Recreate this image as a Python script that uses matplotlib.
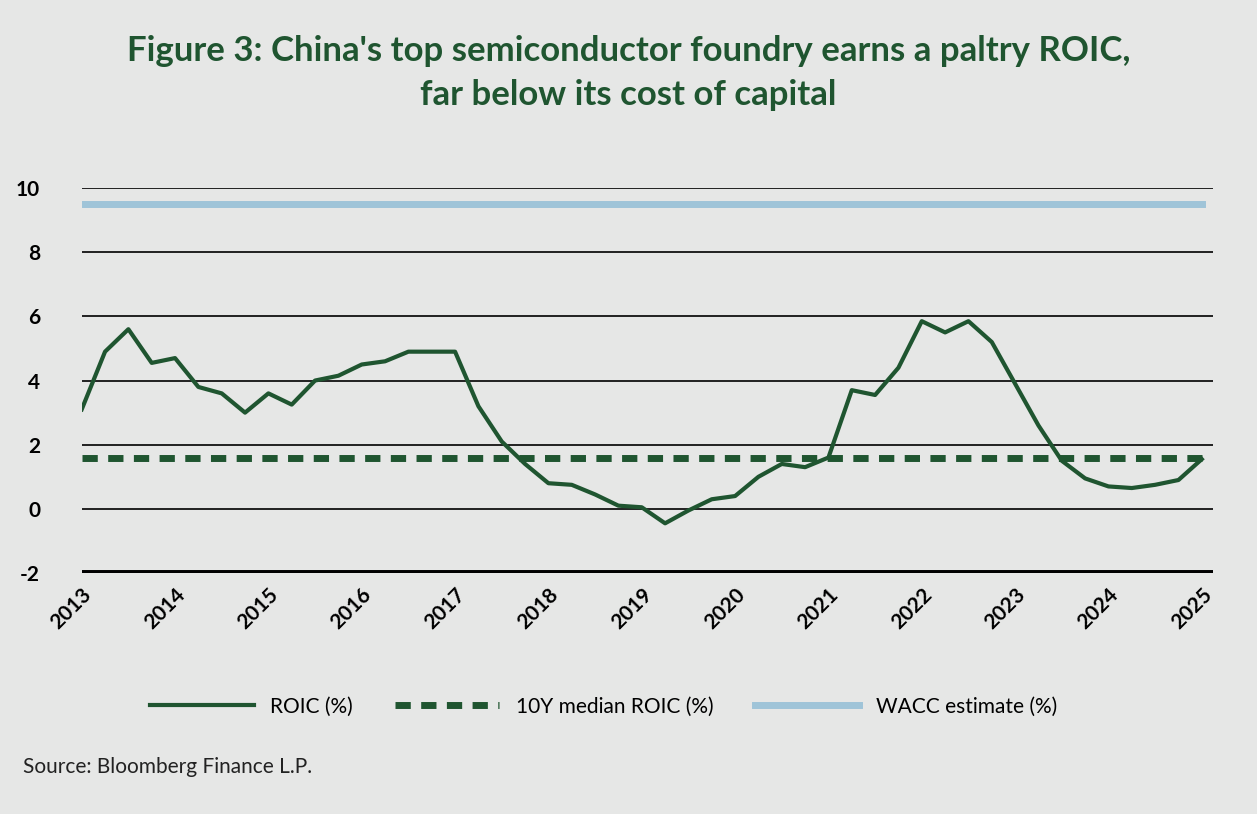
import numpy as np
import matplotlib.pyplot as plt

years = [str(y) for y in range(2013, 2026)]
roic = [3.1, 4.9, 5.6, 4.55, 4.7, 3.8, 3.6, 3.0, 3.6, 3.25, 4.0, 4.15, 4.5,
        4.6, 4.9, 4.9, 4.9, 3.2, 2.1, 1.4, 0.8, 0.75, 0.45, 0.1, 0.05, -0.45,
        -0.05, 0.3, 0.4, 1.0, 1.4, 1.3, 1.6, 3.7, 3.55, 4.4, 5.85, 5.5, 5.85,
        5.2, 3.9, 2.6, 1.5, 0.95, 0.7, 0.65, 0.75, 0.9, 1.55]
median_roic = 1.6
wacc = 9.5

bg = "#e6e7e6"
green = "#1f5530"
plt.rcParams['font.family'] = ['Lato', 'DejaVu Sans']
plt.rcParams['axes.unicode_minus'] = False

x = 2013 + np.arange(len(roic)) / 4
fig = plt.figure(figsize=(12.57, 8.14), dpi=100, facecolor=bg)
ax = fig.add_axes([0.065, 0.296, 0.9, 0.473], facecolor=bg)

for v in range(0, 11, 2):
    ax.axhline(v, color="black", lw=1.2, zorder=1)
ax.axhline(-2, color="black", lw=5, zorder=1)

ax.plot(x, [wacc] * len(x), color="#9fc4d8", lw=5, label="WACC estimate (%)", zorder=2)
ax.plot(x, [median_roic] * len(x), color=green, lw=5, ls=(0, (2.2, 1.5)),
        label="10Y median ROIC (%)", zorder=3)
ax.plot(x, roic, color=green, lw=3, label="ROIC (%)", zorder=4)

ax.set_xlim(2013, 2025.12)
ax.set_ylim(-2, 10)
ax.set_yticks(range(-2, 11, 2))
ax.set_xticks(range(2013, 2026))
ax.set_xticklabels(years, rotation=45, ha="right", rotation_mode="anchor")
ax.tick_params(length=0, labelsize=15, pad=8)
ax.tick_params(axis="y", pad=30)
for lbl in ax.get_xticklabels() + ax.get_yticklabels():
    lbl.set_fontweight("bold")
for s in ax.spines.values():
    s.set_visible(False)

h, l = ax.get_legend_handles_labels()
order = [2, 1, 0]
fig.legend([h[i] for i in order], [l[i] for i in order], loc="center",
           bbox_to_anchor=(0.48, 0.132), ncol=3, frameon=False, fontsize=15,
           handlelength=5, columnspacing=2)

fig.text(0.5, 0.91, "Figure 3: China's top semiconductor foundry earns a paltry ROIC,\nfar below its cost of capital",
         ha="center", va="center", fontsize=25, fontweight="bold", color=green, linespacing=1.45)
fig.text(0.018, 0.05, "Source: Bloomberg Finance L.P.", fontsize=15, color="#222222")

fig.savefig("out.png", facecolor=bg)
